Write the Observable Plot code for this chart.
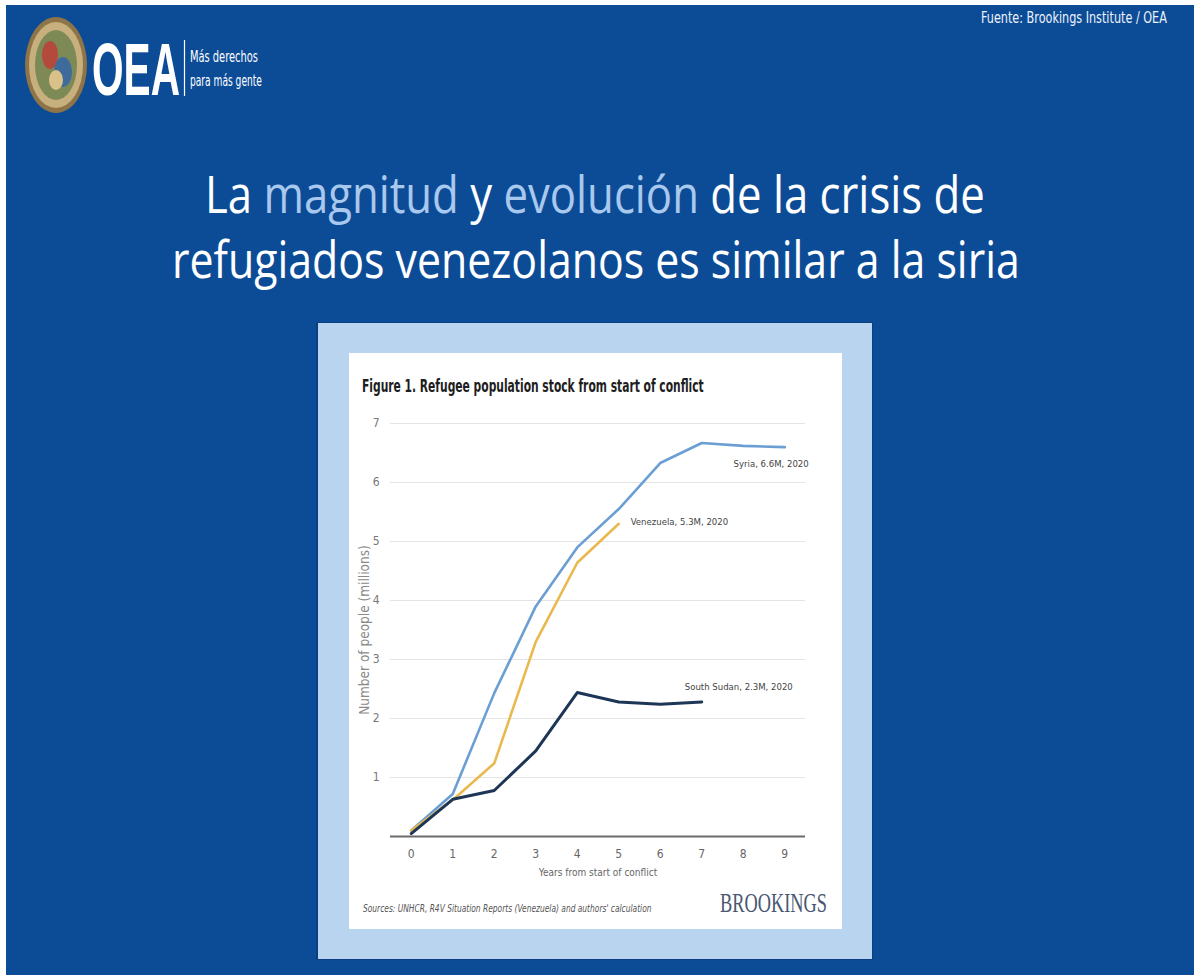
<!DOCTYPE html>
<html><head><meta charset="utf-8">
<script src="https://cdn.jsdelivr.net/npm/d3@7"></script>
<script src="https://cdn.jsdelivr.net/npm/@observablehq/plot@0.6"></script>
<style>
html,body{margin:0;padding:0;background:#fff;}
#stage{position:relative;width:1194px;height:975px;overflow:hidden;}
#bg{position:absolute;left:0;top:0;}
#chart{position:absolute;left:349px;top:400px;}
.narrow{font-family:'Liberation Sans Narrow','DejaVu Sans Condensed','Roboto',sans-serif;}
</style></head><body>
<div id="stage">
<svg id="bg" width="1194" height="975" xmlns="http://www.w3.org/2000/svg">
  <rect x="6" y="5" width="1188" height="970" fill="#0c4c97"/>
  <!-- seal -->
  <ellipse cx="56" cy="65" rx="31" ry="48" fill="#8f7447"/>
  <ellipse cx="56" cy="65" rx="27" ry="43" fill="#c8b07e"/>
  <ellipse cx="56" cy="65" rx="21" ry="35" fill="#7d8a55"/>
  <ellipse cx="50" cy="55" rx="8" ry="14" fill="#b44a3c"/>
  <ellipse cx="63" cy="72" rx="9" ry="15" fill="#3f6a9c"/>
  <ellipse cx="56" cy="80" rx="7" ry="10" fill="#d9c28a"/>
  <!-- OEA -->
  <text class="fit" data-w="88" x="92" y="95" font-family="'Liberation Sans Narrow','Liberation Sans',sans-serif" font-weight="bold" font-size="74" fill="#ffffff">OEA</text>
  <line x1="184.5" y1="40" x2="184.5" y2="96" stroke="#ffffff" stroke-width="1.2"/>
  <text class="fit narrow" data-w="68" x="190" y="62" font-size="16" fill="#ffffff">Más derechos</text>
  <text class="fit narrow" data-w="72" x="190" y="86" font-size="16" fill="#ffffff">para más gente</text>
  <text class="fit narrow" data-w="186" x="981" y="23" font-size="16" fill="#eef3fa">Fuente: Brookings Institute / OEA</text>
  <!-- title -->
  <text class="fit" data-w="780" x="205" y="213" font-family="'Open Sans',sans-serif" font-size="52" fill="#ffffff" style="white-space:pre">La <tspan fill="#a9c8ee">magnitud</tspan> y <tspan fill="#a9c8ee">evolución</tspan> de la crisis de</text>
  <text class="fit" data-w="848" x="172" y="278" font-family="'Open Sans',sans-serif" font-size="52" fill="#ffffff">refugiados venezolanos es similar a la siria</text>
  <!-- frame & card -->
  <rect x="316" y="322" width="557" height="638" fill="#0a3f82"/>
  <rect x="318" y="323" width="554" height="636" fill="#b9d4ee"/>
  <rect x="349" y="353" width="493" height="576" fill="#ffffff"/>
  <text class="fit narrow" data-w="342" x="362" y="392" font-weight="bold" font-size="17" fill="#1e1e1e">Figure 1. Refugee population stock from start of conflict</text>
  <text class="fit narrow" data-w="289" x="363" y="912" font-style="italic" font-size="10.5" fill="#555">Sources: UNHCR, R4V Situation Reports (Venezuela) and authors' calculation</text>
  <text class="fit" data-w="107" x="720" y="912" font-family="'Liberation Serif','DejaVu Serif',serif" font-size="27" fill="#4a5672">BROOKINGS</text>
</svg>
<div id="chart"></div>
</div>
<script>
const years = [0, 1, 2, 3, 4, 5, 6, 7, 8, 9];
const syria = [0.10, 0.72, 2.43, 3.90, 4.90, 5.55, 6.33, 6.67, 6.62, 6.60];
const venezuela = [0.10, 0.62, 1.24, 3.30, 4.64, 5.30];
const southSudan = [0.05, 0.63, 0.78, 1.45, 2.44, 2.28, 2.24, 2.28];
const seriesNames = ["Syria", "Venezuela", "South Sudan"];
const seriesLabels = ["Syria, 6.6M, 2020", "Venezuela, 5.3M, 2020", "South Sudan, 2.3M, 2020"];
const seriesColors = ["#6b9fd3", "#e9b94e", "#1d3656"];
const yTicks = [1, 2, 3, 4, 5, 6, 7];
const xTicks = years;
const xLabel = "Years from start of conflict";
const yLabel = "Number of people (millions)";

// fit decorative slide texts to their measured widths (horizontal scale)
document.querySelectorAll("#bg text.fit").forEach(el => {
  const target = +el.getAttribute("data-w");
  const x0 = +el.getAttribute("x");
  const w = el.getComputedTextLength();
  if (w > 0) {
    const s = target / w;
    el.setAttribute("transform", `translate(${x0},0) scale(${s},1) translate(${-x0},0)`);
  }
});

const seriesValues = [syria, venezuela, southSudan];
const rows = [];
seriesNames.forEach((name, i) => {
  seriesValues[i].forEach((v, j) => rows.push({series: name, year: years[j], value: v}));
});
const of = name => rows.filter(d => d.series === name);
const lastOf = name => of(name).slice(-1);

const font = "'Liberation Sans Narrow','DejaVu Sans Condensed','Roboto',sans-serif";

const chart = Plot.plot({
  width: 493,
  height: 490,
  marginLeft: 41,
  marginRight: 37,
  marginTop: 23,
  marginBottom: 54,
  style: {fontFamily: font, fontSize: "12px", color: "#666", background: "transparent", overflow: "visible"},
  x: {domain: [-0.5, 9.5]},
  y: {domain: [0, 7]},
  marks: [
    Plot.gridY(yTicks, {stroke: "#e4e4e4", strokeOpacity: 1}),
    Plot.axisY(yTicks, {tickSize: 0, tickPadding: 11, label: null, fill: "#777", fontSize: 12, tickFormat: d => String(d)}),
    Plot.axisX(xTicks, {tickSize: 0, tickPadding: 13, label: null, fill: "#666", fontSize: 12, tickFormat: d => String(d)}),
    Plot.text([yLabel], {frameAnchor: "left", textAnchor: "middle", dx: -26, rotate: -90, text: d => d, fontSize: 13.5, fill: "#8a8a8a"}),
    Plot.text([xLabel], {frameAnchor: "bottom", dy: 39, text: d => d, fontSize: 10, fill: "#666"}),
    Plot.ruleY([0], {stroke: "#6b6b6b", strokeWidth: 2}),
    Plot.line(of("Syria"), {x: "year", y: "value", stroke: seriesColors[0], strokeWidth: 2.6}),
    Plot.line(of("Venezuela"), {x: "year", y: "value", stroke: seriesColors[1], strokeWidth: 2.6}),
    Plot.line(of("South Sudan"), {x: "year", y: "value", stroke: seriesColors[2], strokeWidth: 3}),
    Plot.text(lastOf("Syria"), {x: "year", y: "value", text: () => seriesLabels[0], textAnchor: "end", dx: 24, dy: 17, fontSize: 9.5, fill: "#444"}),
    Plot.text(lastOf("Venezuela"), {x: "year", y: "value", text: () => seriesLabels[1], textAnchor: "start", dx: 12, dy: -2, fontSize: 9.5, fill: "#444"}),
    Plot.text(lastOf("South Sudan"), {x: "year", y: "value", text: () => seriesLabels[2], textAnchor: "start", dx: -17, dy: -15, fontSize: 9.5, fill: "#444"})
  ]
});
document.getElementById("chart").appendChild(chart);
</script>
</body></html>
